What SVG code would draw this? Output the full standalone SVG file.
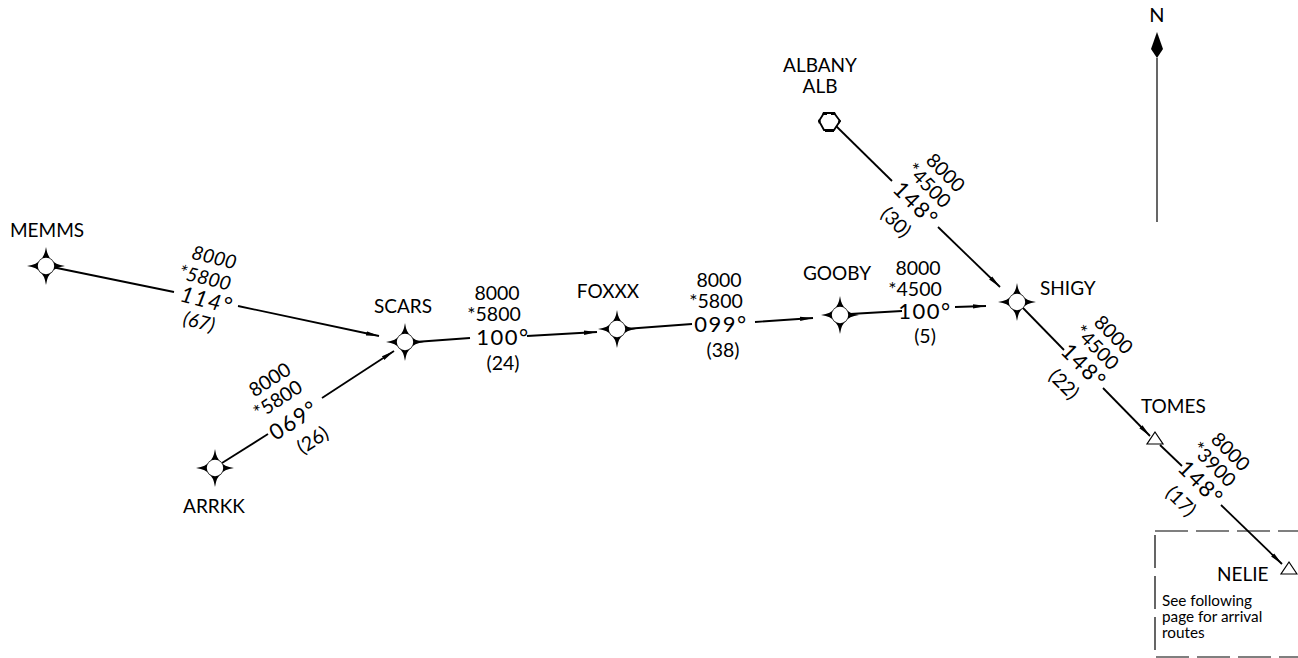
<svg xmlns="http://www.w3.org/2000/svg" width="1298" height="658" viewBox="0 0 1298 658">
<style>
text{font-family:"Lato","Liberation Sans",sans-serif;fill:#000;font-size:19px}
.n{text-anchor:middle}
.c{text-anchor:middle;font-size:19.500px}
.h{text-anchor:middle;font-size:22px;letter-spacing:1.500px}
.i{font-style:italic}
.s{font-size:15.300px}
.l{stroke:#000;stroke-width:1.8;fill:none}
.t{stroke:#000;stroke-width:1.2;fill:#fff}
.d{stroke:#000;stroke-width:1.2;fill:none;stroke-dasharray:33 8}
</style>
<defs>
<marker id="a" markerUnits="userSpaceOnUse" markerWidth="14" markerHeight="8" refX="13" refY="4" orient="auto"><path d="M0 1.800L13 4L0 6.200Z" fill="#000"/></marker>
<g id="star"><path d="M0-19Q1.500-8.500 6.200-6.200Q8.500-1.500 19 0Q8.500 1.500 6.200 6.200Q1.500 8.500 0 19Q-1.500 8.500-6.200 6.200Q-8.500 1.500-19 0Q-8.500-1.500-6.200-6.200Q-1.500-8.500 0-19Z" fill="#000"/><circle r="8.200" fill="#fff"/></g>
</defs>
<g id="connectors">
<path class="l" d="M52 267L174 292"/><path class="l" d="M238 306L379 336" marker-end="url(#a)"/>
<path class="l" d="M222 463L268 434"/><path class="l" d="M322 398L394 351" marker-end="url(#a)"/>
<path class="l" d="M415 342L470 338"/><path class="l" d="M527 336L597 332" marker-end="url(#a)"/>
<path class="l" d="M625 329L692 324"/><path class="l" d="M755 322L813 318" marker-end="url(#a)"/>
<path class="l" d="M850 314L902 311"/><path class="l" d="M955 307L986 306" marker-end="url(#a)"/>
<path class="l" d="M835 125L892 181"/><path class="l" d="M938 227L1000 287" marker-end="url(#a)"/>
<path class="l" d="M1023 308L1064 350"/><path class="l" d="M1103 388L1150 436" marker-end="url(#a)"/>
<path class="l" d="M1160 445L1182 466"/><path class="l" d="M1221 505L1282 564" marker-end="url(#a)"/>
<path class="l" d="M1157 58V222" style="stroke-width:1.2"/>
</g>
<g id="memms"><use href="#star" x="46" y="266"/><text class="n" x="47" y="237">MEMMS</text></g>
<g id="scars"><use href="#star" x="405" y="342"/><text class="n" x="403" y="313">SCARS</text></g>
<g id="arrkk"><use href="#star" x="215" y="468"/><text class="n" x="214" y="513">ARRKK</text></g>
<g id="foxxx"><use href="#star" x="617" y="329"/><text class="n" x="608" y="298">FOXXX</text></g>
<g id="gooby"><use href="#star" x="840" y="315"/><text class="n" x="837" y="280">GOOBY</text></g>
<g id="shigy"><use href="#star" x="1017" y="302"/><text x="1040" y="295">SHIGY</text></g>
<g id="albany"><path d="M824 113H834L840 121L834 130H824L819 121Z" fill="#fff" stroke="#000" stroke-width="1.800"/><path d="M825 129H834V132H825ZM823 112H827V115H822ZM831 112H835L836 115H831ZM819 119L821 121L819 124L818 121ZM839 119L841 121L839 124L838 122Z" fill="#000"/><text class="n" x="820" y="72">ALBANY</text><text class="n" x="820" y="93">ALB</text></g>
<g id="tomes"><path class="t" d="M1155 432L1163 444H1147Z"/><text x="1141" y="413">TOMES</text></g>
<g id="nelie"><path class="t" d="M1289 562L1297 574H1281Z"/><text x="1217" y="581">NELIE</text></g>
<g id="box"><path class="d" d="M1155 531H1298"/><path class="d" d="M1155 535V657H1298"/>
<text class="s" x="1162" y="606">See following</text><text class="s" x="1162" y="622">page for arrival</text><text class="s" x="1162" y="638">routes</text></g>
<g id="north"><text class="n" x="1157" y="22" style="font-size:20px">N</text><path d="M1157 32L1163 49L1157 58L1151 49Z" fill="#000"/></g>
<g id="l-memms" transform="translate(205 290) rotate(14)"><text class="c i" x="1" y="-27">8000</text><text class="c i" x="-3" y="-5">*5800</text><text class="h i" x="4" y="17">114°</text><text class="c i" x="2" y="39">(67)</text></g>
<g id="l-arrkk" transform="translate(294 415) rotate(-33)"><text class="c" x="-1" y="-36">8000</text><text class="c" x="-5" y="-15">*5800</text><text class="h" x="-3" y="12">069°</text><text class="c" x="2" y="38">(26)</text></g>
<g id="l-scars"><text class="c" x="497" y="300">8000</text><text class="c" x="494" y="321">*5800</text><text class="h" x="503" y="345">100°</text><text class="c" x="503" y="370">(24)</text></g>
<g id="l-foxxx"><text class="c" x="719" y="287">8000</text><text class="c" x="716" y="308">*5800</text><text class="h" x="721" y="332">099°</text><text class="c" x="723" y="357">(38)</text></g>
<g id="l-gooby"><text class="c" x="918" y="275">8000</text><text class="c" x="915" y="296">*4500</text><text class="h" x="925" y="319">100°</text><text class="c" x="925" y="343">(5)</text></g>
<g id="l-albany" transform="translate(921 203) rotate(45)"><text class="c" x="-4" y="-32">8000</text><text class="c" x="-7" y="-11">*4500</text><text class="h" x="-3" y="12">148°</text><text class="c" x="-4" y="38">(30)</text></g>
<g id="l-shigy" transform="translate(1089 365) rotate(45)"><text class="c" x="-4" y="-32">8000</text><text class="c" x="-7" y="-11">*4500</text><text class="h" x="-3" y="12">148°</text><text class="c" x="-4" y="38">(22)</text></g>
<g id="l-tomes" transform="translate(1206 482) rotate(45)"><text class="c" x="-4" y="-32">8000</text><text class="c" x="-7" y="-11">*3900</text><text class="h" x="-3" y="12">148°</text><text class="c" x="-4" y="38">(17)</text></g>
</svg>
